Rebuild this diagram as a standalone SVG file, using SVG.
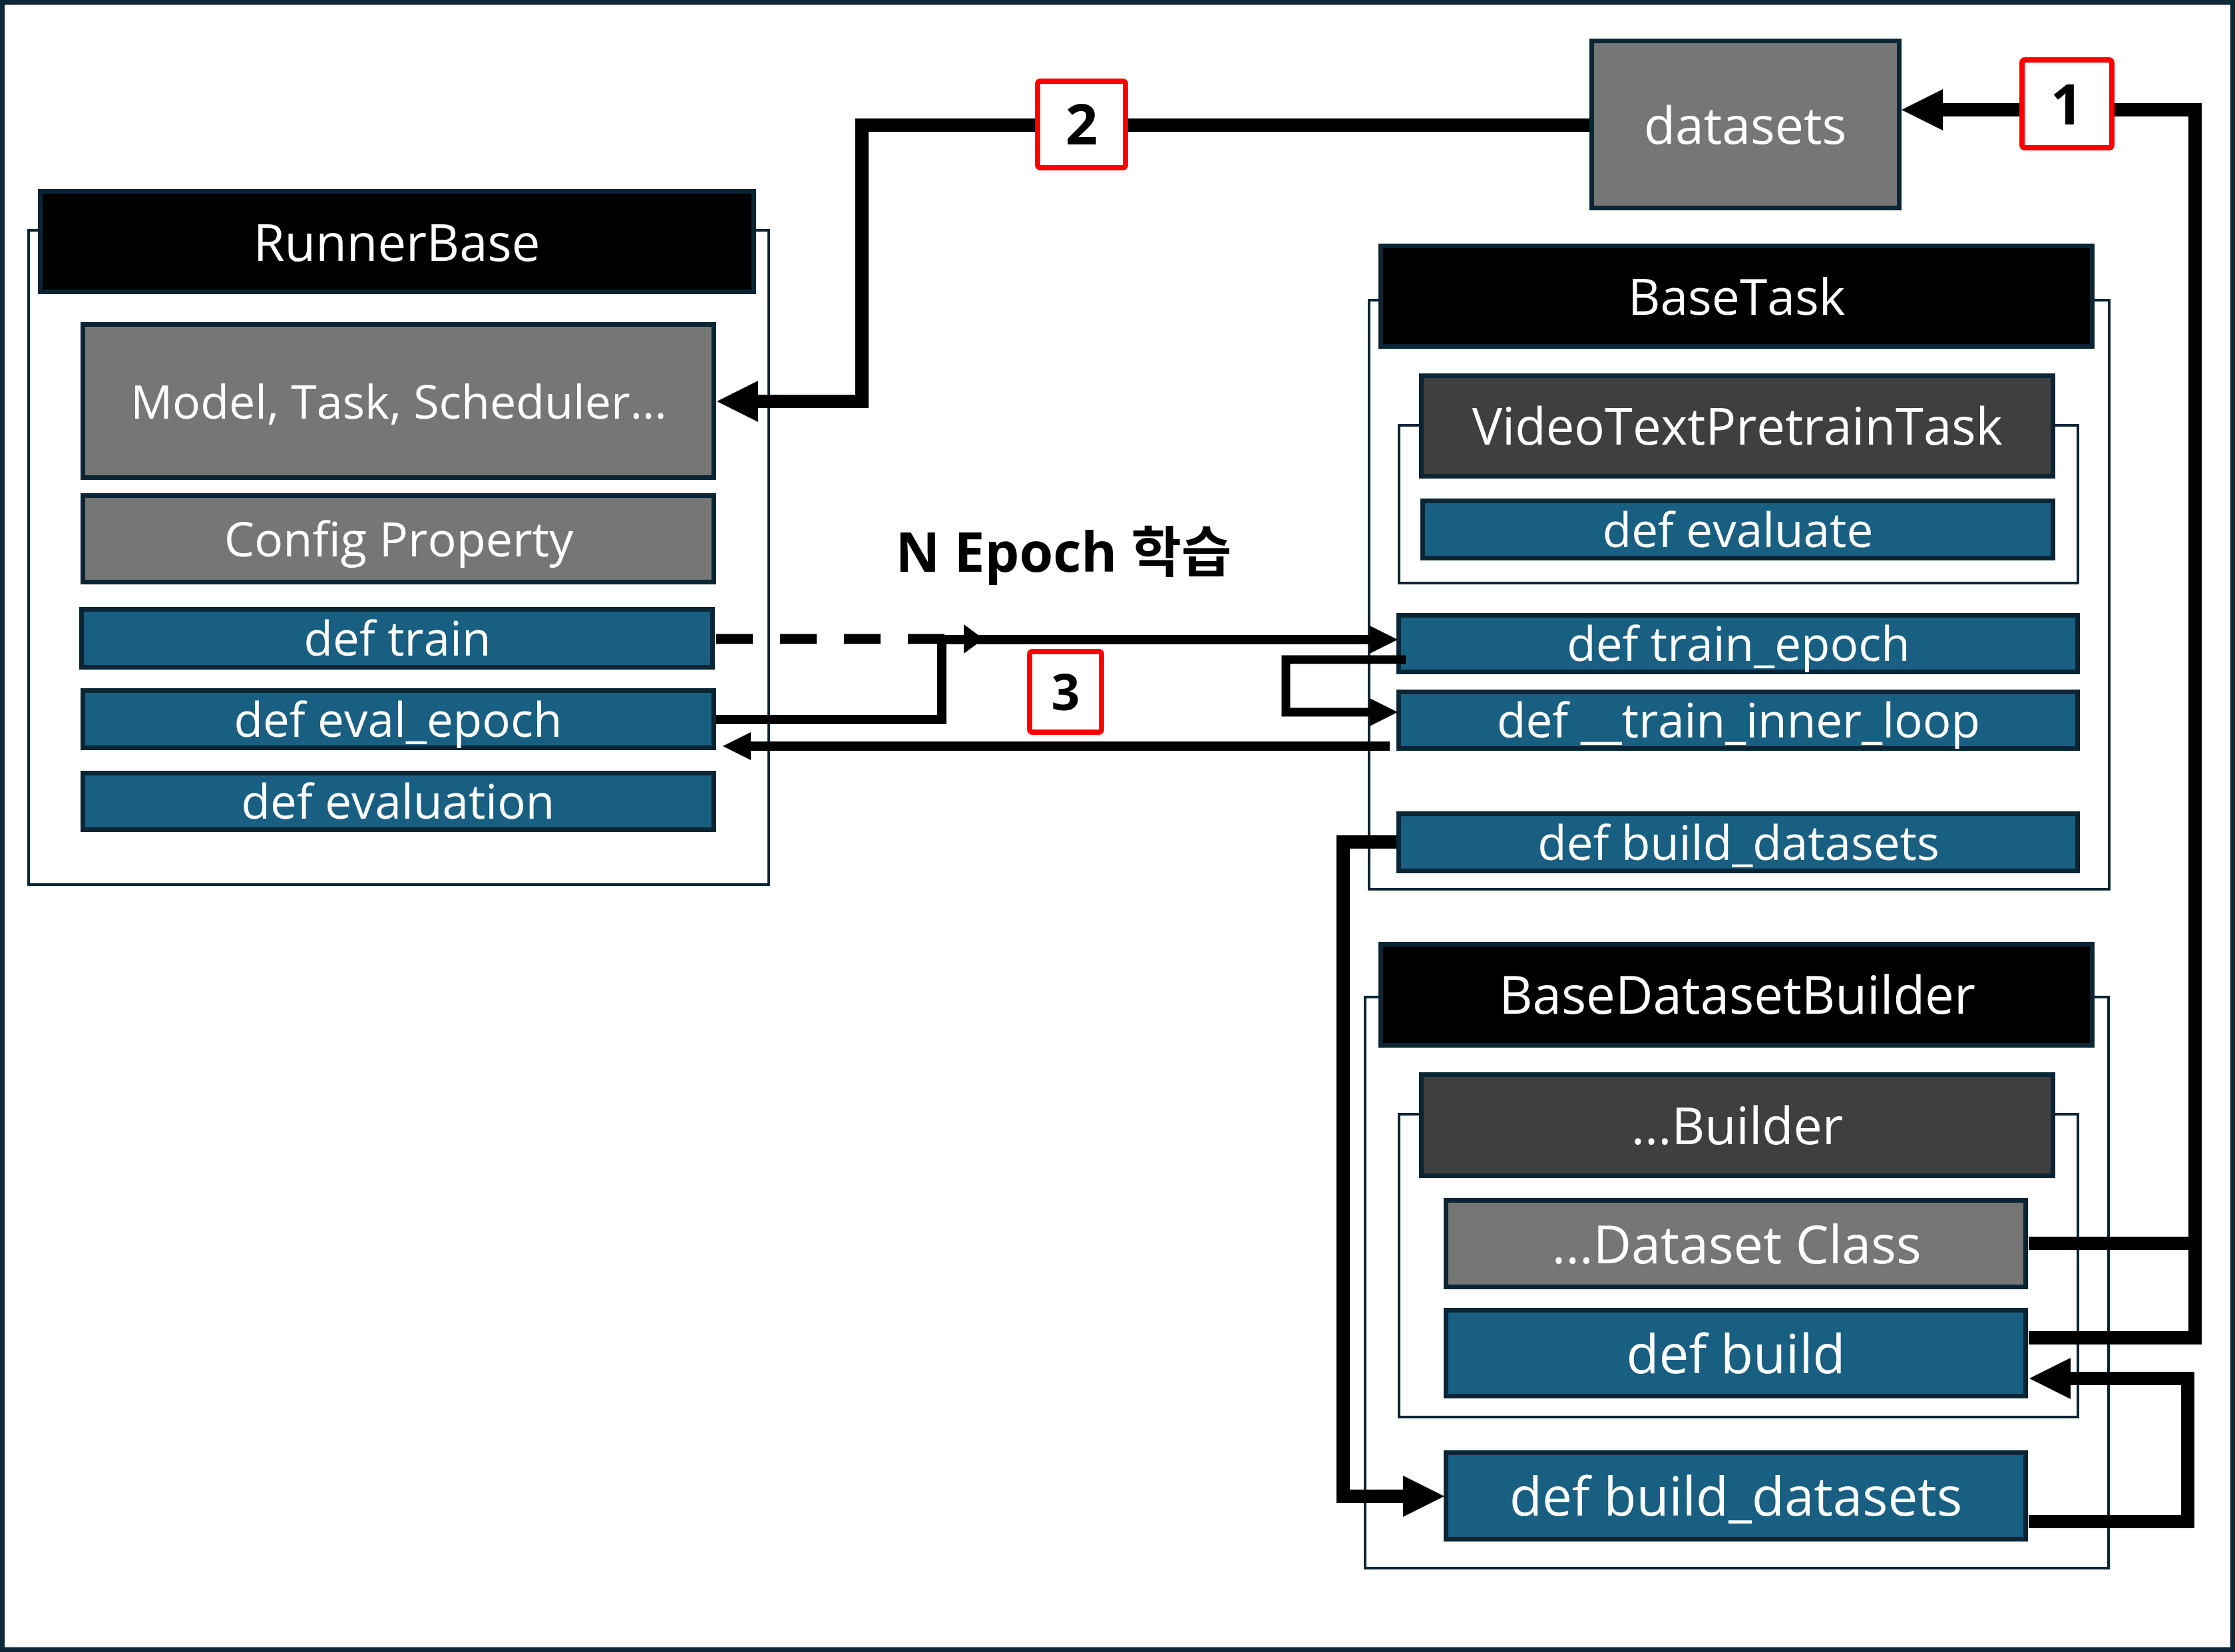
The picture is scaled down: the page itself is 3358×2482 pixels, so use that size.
<svg xmlns="http://www.w3.org/2000/svg" width="3358" height="2482" viewBox="0 0 3358 2482">
<style>
.frame{fill:#ffffff;stroke:#0e2838;stroke-width:7}
.cont{fill:none;stroke:#0b2534;stroke-width:4}
.hdr{fill:#000000;stroke:#0b2534;stroke-width:7}
.dark{fill:#3f3f3f;stroke:#0b2534;stroke-width:7}
.gray{fill:#767676;stroke:#0b2534;stroke-width:7}
.blue{fill:#185f82;stroke:#0b2534;stroke-width:7}
.t{font-family:"Open Sans","Noto Sans CJK KR",sans-serif;fill:#ffffff;text-anchor:middle}
.thick{fill:none;stroke:#000;stroke-width:20;stroke-linejoin:miter}
.thin{fill:none;stroke:#000;stroke-width:14;stroke-linejoin:miter}
.loop{fill:none;stroke:#000;stroke-width:13;stroke-linejoin:miter}
.dash{fill:none;stroke:#000;stroke-width:15;stroke-dasharray:55 41}
.lbl{fill:#ffffff;stroke:#ff0000;stroke-width:8}
.num{font-family:"Open Sans","Noto Sans CJK KR",sans-serif;font-weight:700;fill:#000;text-anchor:middle}
.title{font-family:"Open Sans","Noto Sans CJK KR",sans-serif;font-weight:700;fill:#000;text-anchor:middle;font-size:82px}
</style>
<defs>
<marker id="ahThick" markerUnits="userSpaceOnUse" viewBox="0 0 62 62" markerWidth="62" markerHeight="62" refX="0" refY="31" orient="auto"><path d="M0,0 L62,31 L0,62 z" fill="#000"/></marker>
<marker id="ahThin" markerUnits="userSpaceOnUse" viewBox="0 0 42 42" markerWidth="42" markerHeight="42" refX="0" refY="21" orient="auto"><path d="M0,0 L42,21 L0,42 z" fill="#000"/></marker>
<marker id="ahSmall" markerUnits="userSpaceOnUse" viewBox="0 0 30 44" markerWidth="30" markerHeight="44" refX="0" refY="22" orient="auto"><path d="M0,0 L30,22 L0,44 z" fill="#000"/></marker>
</defs>
<rect class="frame" x="3.5" y="3.5" width="3351" height="2475"/>

<g id="runnerbase">
<rect class="cont" x="43" y="346" width="1112" height="983"/>
<rect class="hdr" x="60.5" y="287.5" width="1072" height="151"/>
<text class="t" x="596" y="392" font-size="76">RunnerBase</text>
</g>
<g id="rb-model">
<rect class="gray" x="124.5" y="487.5" width="948" height="230"/>
<text class="t" x="599" y="629" font-size="70">Model, Task, Scheduler...</text>
</g>
<g id="rb-config">
<rect class="gray" x="124.5" y="744.5" width="948" height="130"/>
<text class="t" x="599" y="836" font-size="72">Config Property</text>
</g>
<g id="rb-train">
<rect class="blue" x="122.5" y="915.5" width="948" height="87"/>
<text class="t" x="597" y="985" font-size="71">def train</text>
</g>
<g id="rb-eval-epoch">
<rect class="blue" x="124.5" y="1037.5" width="948" height="86"/>
<text class="t" x="598" y="1107" font-size="71">def eval_epoch</text>
</g>
<g id="rb-evaluation">
<rect class="blue" x="124.5" y="1161.5" width="948" height="85"/>
<text class="t" x="598" y="1230" font-size="71">def evaluation</text>
</g>

<g id="datasets">
<rect class="gray" x="2391.5" y="61.5" width="462" height="251"/>
<text class="t" x="2622" y="216" font-size="77">datasets</text>
</g>

<g id="basetask">
<rect class="cont" x="2057" y="451" width="1112" height="885"/>
<rect class="hdr" x="2074.5" y="369.5" width="1069" height="151"/>
<text class="t" x="2609" y="473" font-size="75">BaseTask</text>
</g>
<g id="videotextpretraintask">
<rect class="cont" x="2102" y="639" width="1020" height="237"/>
<rect class="dark" x="2135.5" y="564.5" width="949" height="151"/>
<text class="t" x="2610" y="668" font-size="76">VideoTextPretrainTask</text>
</g>
<g id="vt-evaluate">
<rect class="blue" x="2137.5" y="752.5" width="947" height="86"/>
<text class="t" x="2611" y="822" font-size="71">def evaluate</text>
</g>
<g id="bt-train-epoch">
<rect class="blue" x="2101.5" y="924.5" width="1020" height="85"/>
<text class="t" x="2612" y="993" font-size="71">def train_epoch</text>
</g>
<g id="bt-inner-loop">
<rect class="blue" x="2101.5" y="1039.5" width="1020" height="85"/>
<text class="t" x="2612" y="1108" font-size="71">def __train_inner_loop</text>
</g>
<g id="bt-build-datasets">
<rect class="blue" x="2101.5" y="1222.5" width="1020" height="86"/>
<text class="t" x="2612" y="1292" font-size="71">def build_datasets</text>
</g>

<g id="basedatasetbuilder">
<rect class="cont" x="2051" y="1498" width="1117" height="858"/>
<rect class="hdr" x="2074.5" y="1418.5" width="1069" height="152"/>
<text class="t" x="2610" y="1523" font-size="78">BaseDatasetBuilder</text>
</g>
<g id="builder">
<rect class="cont" x="2102" y="1674" width="1020" height="455"/>
<rect class="dark" x="2135.5" y="1614.5" width="949" height="152"/>
<text class="t" x="2610" y="1719" font-size="77">...Builder</text>
</g>
<g id="dataset-class">
<rect class="gray" x="2172.5" y="1803.5" width="871" height="130"/>
<text class="t" x="2609" y="1898" font-size="79">...Dataset Class</text>
</g>
<g id="db-build">
<rect class="blue" x="2172.5" y="1968.5" width="871" height="129"/>
<text class="t" x="2608" y="2063" font-size="80">def build</text>
</g>
<g id="db-build-datasets">
<rect class="blue" x="2172.5" y="2182.5" width="871" height="130"/>
<text class="t" x="2608" y="2277" font-size="80">def build_datasets</text>
</g>

<g id="connectors">
<path class="thick" d="M3048,2010 H3298 V165 H2919" marker-end="url(#ahThick)"/>
<path class="thick" d="M3048,1868 H3298"/>
<path class="thick" d="M2388,188 H1295 V603 H1139" marker-end="url(#ahThick)"/>
<path class="thick" d="M2098,1265 H2018 V2248 H2108" marker-end="url(#ahThick)"/>
<path class="thick" d="M3048,2286 H3287 V2071 H3111" marker-end="url(#ahThick)"/>
<path class="dash" d="M1076,960 H1448" marker-end="url(#ahSmall)"/>
<path class="thin" d="M1076,1081 H1415 V961 H2058" marker-end="url(#ahThin)"/>
<path class="loop" d="M2112,991 H1932 V1070 H2058" marker-end="url(#ahThin)"/>
<path class="thin" d="M2088,1121 H1128" marker-end="url(#ahThin)"/>
</g>

<g id="label-1">
<rect class="lbl" x="3038" y="90" width="135" height="132" rx="4"/>
<text class="num" x="3105" y="187" font-size="85">1</text>
</g>
<g id="label-2">
<rect class="lbl" x="1559" y="122" width="132" height="130" rx="4"/>
<text class="num" x="1625" y="217" font-size="85">2</text>
</g>
<g id="label-3">
<rect class="lbl" x="1547" y="979" width="108" height="121" rx="4"/>
<text class="num" x="1601" y="1067" font-size="75">3</text>
</g>
<g id="title">
<text class="title" x="1598" y="859">N Epoch 학습</text>
</g>
</svg>
